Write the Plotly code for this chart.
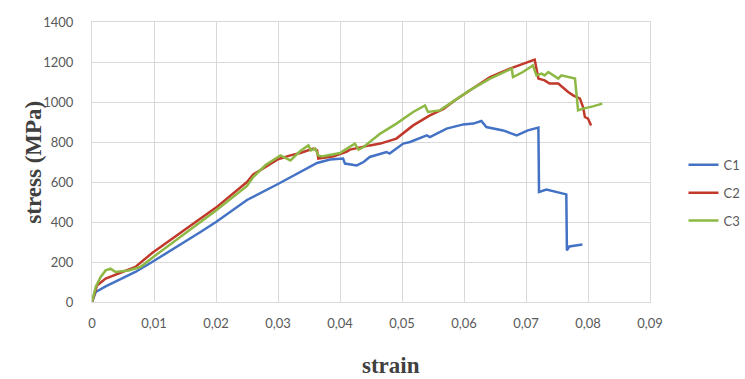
import plotly.graph_objects as go

c1_strain = [0, 0.0006, 0.0022, 0.0043, 0.007, 0.0097, 0.015, 0.0175, 0.02, 0.025, 0.03, 0.033, 0.0363, 0.0384,
             0.0405, 0.0408, 0.0427, 0.0438, 0.0448, 0.0475, 0.048, 0.0502, 0.0513, 0.054, 0.0545, 0.0572, 0.0599,
             0.0615, 0.0628, 0.0636, 0.0663, 0.0685, 0.0703, 0.072, 0.0721, 0.0733, 0.0749, 0.0765, 0.0766, 0.077, 0.0791]
c1_stress = [0, 50, 78, 108, 150, 200, 300, 350, 400, 510, 590, 642, 695, 712,
             717, 692, 683, 700, 725, 750, 742, 792, 800, 833, 825, 867, 888,
             892, 905, 875, 858, 833, 858, 872, 550, 562, 550, 538, 258, 278, 287]

c2_strain = [0, 0.0008, 0.0022, 0.0043, 0.007, 0.0097, 0.015, 0.0172, 0.02, 0.025, 0.026, 0.028, 0.03, 0.032,
             0.0336, 0.0357, 0.0363, 0.0365, 0.039, 0.0411, 0.0416, 0.0448, 0.0465, 0.0491, 0.0518, 0.0545, 0.0567,
             0.0585, 0.0609, 0.0642, 0.0674, 0.0698, 0.0714, 0.072, 0.073, 0.0738, 0.0752, 0.0768, 0.0776, 0.0787,
             0.0792, 0.0795, 0.08, 0.0805]
c2_stress = [0, 83, 117, 142, 175, 245, 360, 408, 472, 600, 638, 675, 714, 733,
             745, 767, 758, 717, 728, 752, 762, 783, 792, 817, 883, 933, 965,
             1008, 1058, 1125, 1167, 1195, 1212, 1117, 1108, 1092, 1092, 1050, 1033, 1017,
             975, 925, 917, 883]

c3_strain = [0, 0.0006, 0.0014, 0.0022, 0.003, 0.0038, 0.0059, 0.0078, 0.01, 0.015, 0.02, 0.025, 0.026, 0.028,
             0.03, 0.0304, 0.032, 0.0336, 0.0349, 0.0353, 0.036, 0.0365, 0.0371, 0.0389, 0.04, 0.0411, 0.0416,
             0.0424, 0.043, 0.0438, 0.0465, 0.0491, 0.0518, 0.0537, 0.0542, 0.0561, 0.0585, 0.0609, 0.0642, 0.0669,
             0.0677, 0.0679, 0.0695, 0.0711, 0.0717, 0.0725, 0.073, 0.0736, 0.0752, 0.0757, 0.0779, 0.0784, 0.0792,
             0.0808, 0.0823]
c3_stress = [0, 75, 125, 158, 167, 150, 158, 175, 228, 345, 458, 580, 625, 685,
             728, 733, 708, 755, 783, 758, 767, 733, 728, 738, 745, 767, 775,
             792, 762, 775, 842, 892, 950, 983, 950, 958, 1008, 1058, 1117, 1158,
             1167, 1125, 1150, 1183, 1133, 1142, 1133, 1150, 1117, 1133, 1117, 958, 967,
             978, 992]

x_tickvals = [0, 0.01, 0.02, 0.03, 0.04, 0.05, 0.06, 0.07, 0.08, 0.09]
x_ticktext = ["0", "0,01", "0,02", "0,03", "0,04", "0,05", "0,06", "0,07", "0,08", "0,09"]
y_tickvals = [0, 200, 400, 600, 800, 1000, 1200, 1400]

series = [
    ("C1", c1_strain, c1_stress, "#4472C4"),
    ("C2", c2_strain, c2_stress, "#C0392B"),
    ("C3", c3_strain, c3_stress, "#8DB843"),
]

fig = go.Figure()
for name, xs, ys, col in series:
    fig.add_trace(go.Scatter(x=xs, y=ys, mode="lines", name=name, legendgroup=name,
                             line=dict(color=col, width=2.5)))

grid = "#D9D9D9"
tickfont = dict(family="Lato, Open Sans, sans-serif", size=13, color="#595959")
titlefont = dict(family="Liberation Serif, Times New Roman, serif", size=23, color="#404040", weight="bold")
fig.update_layout(
    width=745, height=379,
    margin=dict(l=91.5, r=94.5, t=21.7, b=77.3, autoexpand=False),
    paper_bgcolor="white", plot_bgcolor="white",
    showlegend=True,
    legend=dict(x=1.06, xanchor="left", y=0.39, yanchor="middle",
                font=dict(family="Lato, Open Sans, sans-serif", size=13, color="#595959"),
                tracegroupgap=8, bgcolor="rgba(0,0,0,0)"),
    xaxis=dict(range=[0, 0.09], tickvals=x_tickvals, ticktext=x_ticktext, showgrid=True,
               gridcolor=grid, gridwidth=1, zeroline=False, showline=True, linecolor=grid,
               mirror=True, tickfont=tickfont, ticks="", ticklabelstandoff=9),
    yaxis=dict(range=[0, 1400], tickvals=y_tickvals, showgrid=True, gridcolor=grid, gridwidth=1,
               zeroline=False, showline=True, linecolor=grid, mirror=True, tickfont=tickfont,
               ticks="", tickformat="d", ticklabelstandoff=15),
    annotations=[
        dict(text="strain", xref="paper", yref="paper", x=0.536, y=-0.227, xanchor="center",
             yanchor="middle", showarrow=False, font=titlefont),
        dict(text="stress (MPa)", xref="paper", yref="paper", x=-0.1064, y=0.5, xanchor="center",
             yanchor="middle", textangle=-90, showarrow=False, font=titlefont),
    ],
)

fig.write_html("out.html")
